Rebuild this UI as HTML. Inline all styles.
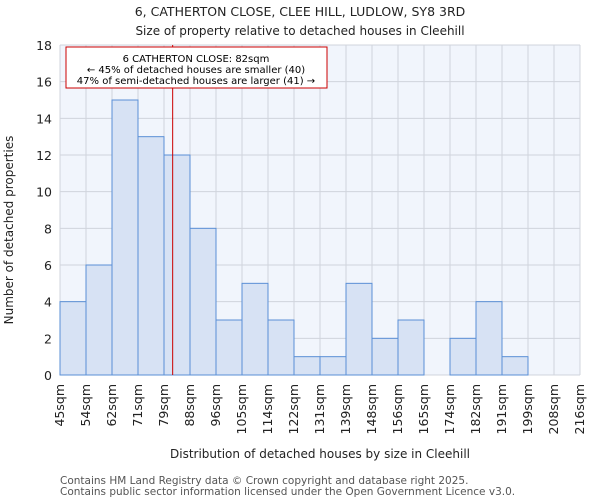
<!DOCTYPE html>
<html><head><meta charset="utf-8"><style>
body{margin:0;background:#fff;font-family:"DejaVu Sans","Liberation Sans",sans-serif;}
</style></head><body>
<svg width="600" height="500" xmlns="http://www.w3.org/2000/svg" font-family="DejaVu Sans, Liberation Sans, sans-serif">
<text x="300" y="16" text-anchor="middle" font-size="12.5" fill="#222">6, CATHERTON CLOSE, CLEE HILL, LUDLOW, SY8 3RD</text>
<text x="300" y="35" text-anchor="middle" font-size="12" fill="#222">Size of property relative to detached houses in Cleehill</text>
<rect x="60" y="45" width="520" height="330" fill="#f1f5fc"/>
<g id="grid"></g>
<g id="bars"></g>
<g id="ticks"></g>
<text transform="translate(13,230) rotate(-90)" text-anchor="middle" font-size="12" fill="#222">Number of detached properties</text>
<text x="320" y="458" text-anchor="middle" font-size="12" fill="#222">Distribution of detached houses by size in Cleehill</text>
<text x="60" y="484" font-size="10.5" fill="#555">Contains HM Land Registry data © Crown copyright and database right 2025.</text>
<text x="60" y="495" font-size="10.5" fill="#555">Contains public sector information licensed under the Open Government Licence v3.0.</text>
<g id="marker"></g>
<g>
<rect x="66" y="47" width="261" height="41" fill="#fff" stroke="#cc0000" stroke-width="1"/>
<text x="196" y="62" text-anchor="middle" font-size="10" fill="#000">6 CATHERTON CLOSE: 82sqm</text>
<text x="196" y="73" text-anchor="middle" font-size="10" fill="#000">← 45% of detached houses are smaller (40)</text>
<text x="196" y="84" text-anchor="middle" font-size="10" fill="#000">47% of semi-detached houses are larger (41) →</text>
</g>
</svg>
<script>
const binLabels=["45sqm","54sqm","62sqm","71sqm","79sqm","88sqm","96sqm","105sqm","114sqm","122sqm","131sqm","139sqm","148sqm","156sqm","165sqm","174sqm","182sqm","191sqm","199sqm","208sqm","216sqm"];
const binEdges=[45,54,62,71,79,88,96,105,114,122,131,139,148,156,165,174,182,191,199,208,216];
const counts=[4,6,15,13,12,8,3,5,3,1,1,5,2,3,0,2,4,1,0,0];
const yTicks=[0,2,4,6,8,10,12,14,16,18];
const propertySize=82;
const NS="http://www.w3.org/2000/svg";
const X0=60,X1=580,Y0=375,Y1=45,nb=counts.length;
const bw=(X1-X0)/nb;
function xIdx(i){return X0+i*bw;}
function xVal(v){for(let i=0;i<binEdges.length-1;i++){if(v<=binEdges[i+1]){return xIdx(i)+(v-binEdges[i])/(binEdges[i+1]-binEdges[i])*bw;}}return X1;}
function y(v){return Y0-(v/18)*(Y0-Y1);}
function mk(t,a,p){const e=document.createElementNS(NS,t);for(const k in a)e.setAttribute(k,a[k]);p.appendChild(e);return e;}
const grid=document.getElementById('grid'),bars=document.getElementById('bars'),ticks=document.getElementById('ticks');
yTicks.forEach(v=>{
 const l=mk('line',{x1:X0,x2:X1,y1:y(v),y2:y(v),stroke:'#d0d4dc','stroke-width':1},grid);
 
 
 const t=mk('text',{x:X0-8,y:y(v)+5,'text-anchor':'end','font-size':12.5,fill:'#222'},ticks);
 t.textContent=v;
 
 
});
for(let i=0;i<=nb;i++){
 const l=mk('line',{x1:xIdx(i),x2:xIdx(i),y1:Y1,y2:Y0,stroke:'#d0d4dc','stroke-width':1},grid);
 
 
}
counts.forEach((c,i)=>{
 if(c<=0)return;
 const r=mk('rect',{x:xIdx(i),y:y(c),width:bw,height:Y0-y(c),fill:'#d7e2f4',stroke:'#5a8fd6','stroke-width':1},bars);
 
 
});
binLabels.forEach((lab,i)=>{
 const xx=xIdx(i)+4;
 const t=mk('text',{transform:'translate('+xx+',384) rotate(-90)','text-anchor':'end','font-size':12.5,fill:'#222'},ticks);
 t.textContent=lab;
 
 
});
const m=mk('line',{x1:xVal(propertySize),x2:xVal(propertySize),y1:Y1,y2:Y0,stroke:'#cc0000','stroke-width':1},document.getElementById('marker'));


</script>
</body></html>
